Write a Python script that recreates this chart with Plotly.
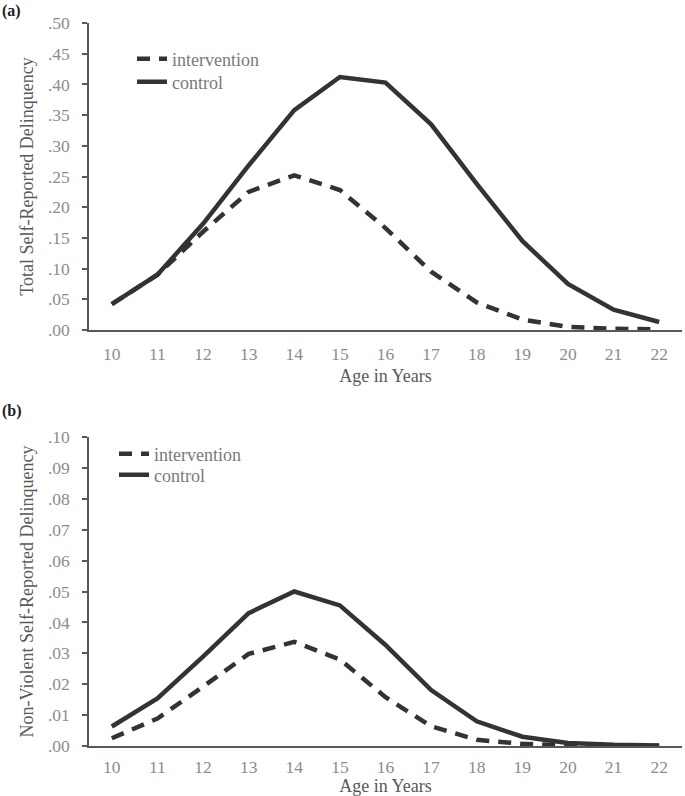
import plotly.graph_objects as go

ages = [10, 11, 12, 13, 14, 15, 16, 17, 18, 19, 20, 21, 22]

total_intervention = [0.042, 0.090, 0.160, 0.225, 0.252, 0.228, 0.166, 0.095, 0.045, 0.017, 0.005, 0.002, 0.001]
total_control = [0.042, 0.090, 0.173, 0.268, 0.358, 0.412, 0.403, 0.335, 0.238, 0.145, 0.075, 0.033, 0.013]

nonviol_intervention = [0.0025, 0.0089, 0.0192, 0.0298, 0.0337, 0.0280, 0.0158, 0.0064, 0.0020, 0.0007, 0.0002, 0.0001, 0.0000]
nonviol_control = [0.0063, 0.0154, 0.0289, 0.0430, 0.0500, 0.0455, 0.0327, 0.0181, 0.0080, 0.0030, 0.0010, 0.0004, 0.0002]

top_ytick_vals = [0.00, 0.05, 0.10, 0.15, 0.20, 0.25, 0.30, 0.35, 0.40, 0.45, 0.50]
top_ytick_text = [".00", ".05", ".10", ".15", ".20", ".25", ".30", ".35", ".40", ".45", ".50"]
bot_ytick_vals = [0.00, 0.01, 0.02, 0.03, 0.04, 0.05, 0.06, 0.07, 0.08, 0.09, 0.10]
bot_ytick_text = [".00", ".01", ".02", ".03", ".04", ".05", ".06", ".07", ".08", ".09", ".10"]

W, H = 685, 796
FONT = "Liberation Serif, Times New Roman, serif"
LINE = "#333333"
AXIS = "#595959"
TICKC = "#8c8c8c"
TITLEC = "#595959"
LEGC = "#7a7a7a"

fig = go.Figure()

fig.add_trace(go.Scatter(x=ages, y=total_intervention, mode="lines", name="intervention",
                         line=dict(color=LINE, width=4.5, dash="13px,9px"),
                         xaxis="x", yaxis="y", legend="legend"))
fig.add_trace(go.Scatter(x=ages, y=total_control, mode="lines", name="control",
                         line=dict(color=LINE, width=4.5),
                         xaxis="x", yaxis="y", legend="legend2"))
fig.add_trace(go.Scatter(x=ages, y=nonviol_intervention, mode="lines", name="intervention",
                         line=dict(color=LINE, width=4.5, dash="13px,9px"),
                         xaxis="x2", yaxis="y2", legend="legend3"))
fig.add_trace(go.Scatter(x=ages, y=nonviol_control, mode="lines", name="control",
                         line=dict(color=LINE, width=4.5),
                         xaxis="x2", yaxis="y2", legend="legend4"))

xdom = [89 / W, 682 / W]
ydom_top = [1 - 330 / H, 1 - 23 / H]
ydom_bot = [1 - 746 / H, 1 - 437 / H]

def xaxis_cfg(anchor, standoff, tstandoff):
    return dict(domain=xdom, anchor=anchor, range=[9.5, 22.5], tickvals=ages, automargin=False,
                showgrid=False, zeroline=False, showline=True, linecolor=AXIS, linewidth=1.5,
                ticks="", ticklabelstandoff=standoff,
                tickfont=dict(family=FONT, size=17.5, color=TICKC),
                title=dict(text="Age in Years", font=dict(family=FONT, size=18, color=TITLEC), standoff=tstandoff))

def yaxis_cfg(anchor, dom, rng, vals, text, title):
    return dict(domain=dom, anchor=anchor, range=rng, tickvals=vals, ticktext=text, automargin=False,
                showgrid=False, zeroline=False, showline=True, linecolor=AXIS, linewidth=1.5,
                ticks="outside", ticklen=5, tickcolor=AXIS, tickwidth=1.5, ticklabelstandoff=9,
                tickfont=dict(family=FONT, size=17.5, color=TICKC),
                title=dict(text=title, font=dict(family=FONT, size=18, color=TITLEC), standoff=10))

def leg(xpx, ypx):
    return dict(x=xpx / W, y=1 - ypx / H, xanchor="left", yanchor="middle", bgcolor="rgba(0,0,0,0)",
                font=dict(family=FONT, size=18, color=LEGC), itemwidth=30, tracegroupgap=0)

fig.update_layout(
    width=W, height=H,
    margin=dict(l=0, r=0, t=0, b=0),
    paper_bgcolor="white", plot_bgcolor="white",
    font=dict(family=FONT),
    xaxis=xaxis_cfg("y", 7, 7),
    yaxis=yaxis_cfg("x", ydom_top, [0, 0.5], top_ytick_vals, top_ytick_text, "Total Self-Reported Delinquency"),
    xaxis2=xaxis_cfg("y2", 4, 6),
    yaxis2=yaxis_cfg("x2", ydom_bot, [0, 0.1], bot_ytick_vals, bot_ytick_text, "Non-Violent Self-Reported Delinquency"),
    legend=leg(132, 59),
    legend2=leg(132, 82),
    legend3=leg(114, 454),
    legend4=leg(114, 475),
    annotations=[
        dict(text="<b>(a)</b>", x=0, y=1 - 0 / H, xref="paper", yref="paper", xanchor="left", yanchor="top",
             showarrow=False, font=dict(family=FONT, size=16, color="#222222")),
        dict(text="<b>(b)</b>", x=0, y=1 - 400 / H, xref="paper", yref="paper", xanchor="left", yanchor="top",
             showarrow=False, font=dict(family=FONT, size=16, color="#222222")),
    ],
    showlegend=True,
)

fig.write_html("out.html", config={"displayModeBar": False},
               post_script="document.body.style.margin='0';document.body.style.overflow='hidden';")
